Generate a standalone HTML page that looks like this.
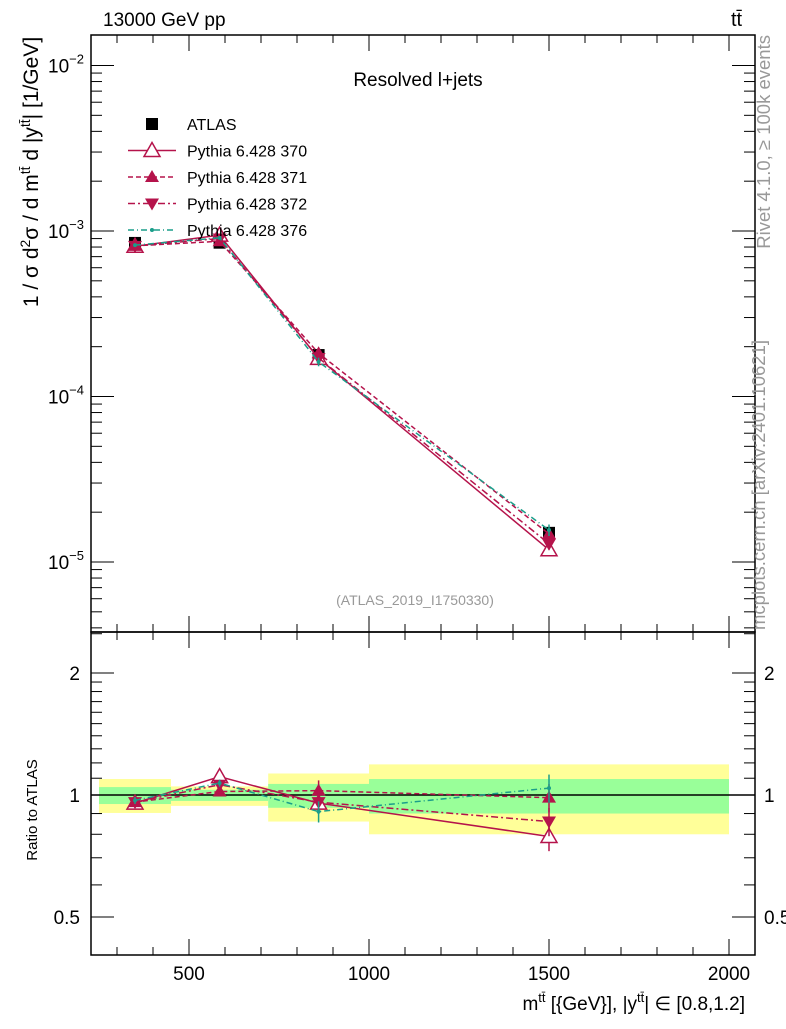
<!DOCTYPE html>
<html><head><meta charset="utf-8"><style>
body{margin:0;background:#fff}
svg text{font-family:"Liberation Sans",sans-serif;fill:#000}
</style></head><body>
<svg id="c" width="786" height="1024" viewBox="0 0 786 1024" xmlns="http://www.w3.org/2000/svg">
<g id="g"></g>
</svg>
<script>
const binLo=[250,450,720,1000];
const binHi=[450,720,1000,2000];
const xCenters=[350,585,860,1500];
const atlasVals=[8.47e-4,8.5e-4,1.78e-4,1.5e-5];
const yellowHi=[1.095,1.05,1.13,1.19];
const yellowLo=[0.903,0.94,0.86,0.80];
const greenHi=[1.046,1.03,1.065,1.095];
const greenLo=[0.95,0.967,0.93,0.90];
const r370=[0.955,1.11,0.955,0.79];
const r371=[0.96,1.02,1.025,0.985];
const r372=[0.96,1.06,0.96,0.86];
const r376=[0.97,1.07,0.91,1.04];
const mcErr=[0.02,0.02,0.06,0.08];
const xTicks=[500,1000,1500,2000];
const yTicks=[-2,-3,-4,-5];
const rTicks=[0.5,1,2];

const NS="http://www.w3.org/2000/svg";
const G=document.getElementById('g');
function el(t,a,p){const e=document.createElementNS(NS,t);for(const k in a)e.setAttribute(k,a[k]);(p||G).appendChild(e);return e;}
const L=91,R=755,T=35,M=632,B=955;
const X=v=>9+0.36*v;
const Y=v=>231-(Math.log10(v)+3)*165.5;
const RY=r=>795-Math.log2(r)*122;

for(let i=0;i<binLo.length;i++){
 let b=el('rect',{x:X(binLo[i]),y:RY(yellowHi[i]),width:X(binHi[i])-X(binLo[i]),height:RY(yellowLo[i])-RY(yellowHi[i]),fill:'#ffff99'});
 
 
 let gg=el('rect',{x:X(binLo[i]),y:RY(greenHi[i]),width:X(binHi[i])-X(binLo[i]),height:RY(greenLo[i])-RY(greenHi[i]),fill:'#99ff99'});
 
 
}
el('line',{x1:L,x2:R,y1:RY(1),y2:RY(1),stroke:'#000','stroke-width':1.5});

el('rect',{x:L,y:T,width:R-L,height:M-T,fill:'none',stroke:'#000','stroke-width':1.5});
el('rect',{x:L,y:M,width:R-L,height:B-M,fill:'none',stroke:'#000','stroke-width':1.5});

for(let v=300;v<=2000;v+=100){
 const maj=v%500==0, x=X(v), len=maj?16:8;
 [[T,1],[M,-1],[M,1],[B,-1]].forEach(([y0,d])=>el('line',{x1:x,x2:x,y1:y0,y2:y0+d*len,stroke:'#000'}));
}
xTicks.forEach(v=>{const t=el('text',{x:X(v),y:980,'font-size':19,'text-anchor':'middle'});t.textContent=v;
 });

for(let d=-6;d<=-2;d++){for(let m=1;m<10;m++){const v=m*Math.pow(10,d);const y=Y(v);if(y<T||y>M)continue;
 const len=m==1?23:11;el('line',{x1:L,x2:L+len,y1:y,y2:y,stroke:'#000'});el('line',{x1:R,x2:R-len,y1:y,y2:y,stroke:'#000'});}}
yTicks.forEach(p=>{const y=Y(Math.pow(10,p));const t=el('text',{x:84,y:y+7,'font-size':19,'text-anchor':'end'});
 t.innerHTML='10<tspan dy="-9" font-size="13">'+(p<0?'\u2212':'')+Math.abs(p)+'</tspan>';
 });

[0.5,0.6,0.7,0.8,0.9,1,1.1,1.2,1.3,1.4,1.5,1.6,1.7,1.8,1.9,2,2.5].forEach(r=>{const y=RY(r);if(y<M||y>B)return;
 const len=(r==0.5||r==1||r==2)?23:11;el('line',{x1:L,x2:L+len,y1:y,y2:y,stroke:'#000'});el('line',{x1:R,x2:R-len,y1:y,y2:y,stroke:'#000'});});
rTicks.forEach(r=>{const y=RY(r)+7;
 const a=el('text',{x:80,y:y,'font-size':19,'text-anchor':'end'});a.textContent=r;
 
 const b=el('text',{x:764,y:y,'font-size':19});b.textContent=r;
 });

const colR='#b5134b', colT='#1a9e8a';
const series=[
 {name:'370',r:r370,col:colR,dash:'',mk:'open-up'},
 {name:'371',r:r371,col:colR,dash:'5,3',mk:'up'},
 {name:'372',r:r372,col:colR,dash:'7,3,2,3',mk:'down'},
 {name:'376',r:r376,col:colT,dash:'6,3,1,3',mk:'dot'}];
function marker(kind,x,y,col,parent){
 if(kind=='open-up')return el('path',{d:`M${x},${y-8}L${x+8},${y+6}L${x-8},${y+6}Z`,fill:'#fff',stroke:col,'stroke-width':1.5},parent);
 if(kind=='up')return el('path',{d:`M${x},${y-7}L${x+7},${y+5}L${x-7},${y+5}Z`,fill:col},parent);
 if(kind=='down')return el('path',{d:`M${x},${y+7}L${x+7},${y-5}L${x-7},${y-5}Z`,fill:col},parent);
 if(kind=='sq')return el('rect',{x:x-6,y:y-6,width:12,height:12,fill:'#000'},parent);
 return el('circle',{cx:x,cy:y,r:2,fill:col},parent);
}
for(let i=0;i<xCenters.length;i++){const m=marker('sq',X(xCenters[i]),Y(atlasVals[i]),'#000');
 }
series.forEach(s=>{
 const pm=xCenters.map((v,i)=>[X(v),Y(atlasVals[i]*s.r[i])]);
 const pr=xCenters.map((v,i)=>[X(v),RY(s.r[i])]);
 [pm,pr].forEach((pts,k)=>{
  const ln=el('polyline',{points:pts.map(p=>p.join(',')).join(' '),fill:'none',stroke:s.col,'stroke-width':1.5,'stroke-dasharray':s.dash});
  
  
  pts.forEach((p,i)=>{
   const e=mcErr[i];
   const ya=k?RY(s.r[i]*(1+e)):Y(atlasVals[i]*s.r[i]*(1+e)), yb=k?RY(s.r[i]*(1-e)):Y(atlasVals[i]*s.r[i]*(1-e));
   el('line',{x1:p[0],x2:p[0],y1:ya,y2:yb,stroke:s.col,'stroke-width':1.5});
   const m=marker(s.mk,p[0],p[1],s.col);
   
   
  });
 });
});

const leg=[['ATLAS','sq','#000',''],['Pythia 6.428 370','open-up',colR,''],['Pythia 6.428 371','up',colR,'5,3'],['Pythia 6.428 372','down',colR,'7,3,2,3'],['Pythia 6.428 376','dot',colT,'6,3,1,3']];
leg.forEach((l,i)=>{const y=124+i*26.5;
 const g=el('g',{});
 if(i>0)el('line',{x1:128,x2:176,y1:y,y2:y,stroke:l[2],'stroke-width':1.5,'stroke-dasharray':l[3]},g);
 marker(l[1],152,y,l[2],g);
 const t=el('text',{x:187,y:y+6,'font-size':16},g);t.textContent=l[0];});
</script>
<svg width="786" height="1024" style="position:absolute;left:0;top:0" xmlns="http://www.w3.org/2000/svg">
<text x="103" y="26" font-size="19" font-family="Liberation Sans">13000 GeV pp</text>
<text x="731" y="26" font-size="20" font-family="Liberation Sans">tt̄</text>
<text x="418" y="86" font-size="19" text-anchor="middle" font-family="Liberation Sans">Resolved l+jets</text>
<text x="415" y="605" font-size="14" style="fill:#999" text-anchor="middle" font-family="Liberation Sans">(ATLAS_2019_I1750330)</text>
<text transform="translate(38,172) rotate(-90)" font-size="21" text-anchor="middle" font-family="Liberation Sans">1 / σ d<tspan dy="-8" font-size="14">2</tspan><tspan dy="8">σ / d m</tspan><tspan dy="-8" font-size="14">tt̄</tspan><tspan dy="8"> d |y</tspan><tspan dy="-8" font-size="14">tt̄</tspan><tspan dy="8">| [1/GeV]</tspan></text>
<text transform="translate(37,810) rotate(-90)" font-size="15" text-anchor="middle" font-family="Liberation Sans">Ratio to ATLAS</text>
<text x="745" y="1010" font-size="19" text-anchor="end" font-family="Liberation Sans">m<tspan dy="-8" font-size="13">tt̄</tspan><tspan dy="8"> [{GeV}], |y</tspan><tspan dy="-8" font-size="13">tt̄</tspan><tspan dy="8">| ∈ [0.8,1.2]</tspan></text>
<text transform="translate(770,35) rotate(-90)" font-size="18.5" style="fill:#999" text-anchor="end" font-family="Liberation Sans">Rivet 4.1.0, ≥ 100k events</text>
<text transform="translate(765,630) rotate(-90)" font-size="18.5" style="fill:#999" font-family="Liberation Sans">mcplots.cern.ch [arXiv:2401.10621]</text>
</svg>
</body></html>
